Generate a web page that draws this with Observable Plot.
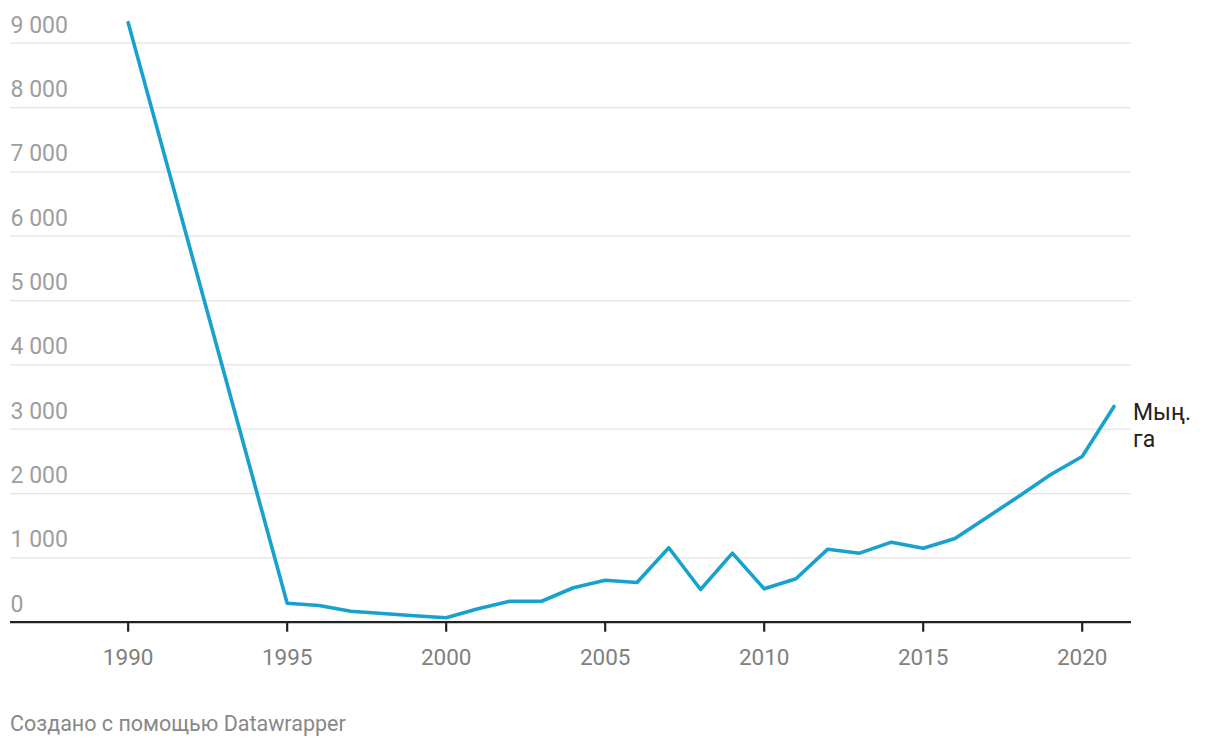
<!DOCTYPE html>
<html>
<head>
<meta charset="utf-8">
<script src="https://cdn.jsdelivr.net/npm/d3@7"></script>
<script src="https://cdn.jsdelivr.net/npm/@observablehq/plot@0.6"></script>
<style>
  html, body { margin: 0; padding: 0; background: #fff; }
  #chart { width: 1220px; }
  .caption { font-family: Roboto, sans-serif; font-size: 21.5px; color: #888; margin-top: 21px; padding-left: 10px; line-height: 1.2; }
</style>
</head>
<body>
<div id="chart"></div>
<div class="caption">Создано с помощью Datawrapper</div>
<script>
const years = [1990, 1995, 1996, 1997, 1998, 1999, 2000, 2001, 2002, 2003, 2004, 2005, 2006, 2007, 2008, 2009, 2010, 2011, 2012, 2013, 2014, 2015, 2016, 2017, 2018, 2019, 2020, 2021];
const values = [9320, 295, 260, 171, 135, 100, 68, 208, 326, 326, 535, 653, 617, 1157, 508, 1073, 519, 675, 1135, 1073, 1244, 1150, 1301, 1628, 1954, 2291, 2576, 3353];
const yTicks = [0, 1000, 2000, 3000, 4000, 5000, 6000, 7000, 8000, 9000];
const xTicks = [1990, 1995, 2000, 2005, 2010, 2015, 2020];
const seriesLabel = "Мың.\nга";

const data = years.map((year, i) => ({year, value: values[i]}));
const last = data[data.length - 1];
const fmt = d => d3.format(",")(d).replace(/,/g, "\u00a0");

const chart = Plot.plot({
  width: 1220,
  height: 690,
  marginLeft: 10,
  marginRight: 89,
  marginTop: 42.7,
  marginBottom: 68.3,
  style: {fontFamily: "Roboto, sans-serif", background: "#fff"},
  x: {domain: [1986.3, 2021.55]},
  y: {domain: [0, 9000], axis: null},
  marks: [
    Plot.ruleY(yTicks, {stroke: "#e3e3e3", strokeWidth: 1.3}),
    Plot.text(yTicks, {y: d => d, frameAnchor: "left", textAnchor: "start", dy: -18, text: fmt, fill: "#9e9e9e", fontSize: 23}),
    Plot.ruleY([0], {stroke: "#222", strokeWidth: 2.2}),
    Plot.axisX({ticks: xTicks, tickSize: 10, fill: "none", stroke: "#222", strokeWidth: 2.2, label: null}),
    Plot.axisX({ticks: xTicks, tickSize: 0, tickPadding: 27, tickFormat: d => String(d), fill: "#808080", fontSize: 22.5, label: null}),
    Plot.line(data, {x: "year", y: "value", stroke: "#18a1cd", strokeWidth: 3.6}),
    Plot.text([last], {x: "year", y: "value", text: () => seriesLabel, textAnchor: "start", lineAnchor: "top", dx: 19, dy: -5.3, lineHeight: 1.16, fontSize: 23, fill: "#222"})
  ]
});
document.getElementById("chart").appendChild(chart);
</script>
</body>
</html>
